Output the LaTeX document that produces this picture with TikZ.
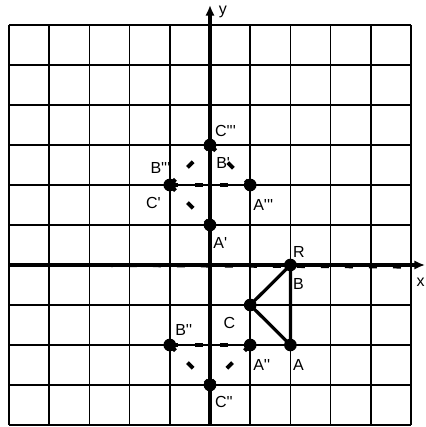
\documentclass[tikz,border=0pt]{standalone}
\usepackage{fontspec}
\newfontfamily\lab{Liberation Sans}
\usetikzlibrary{arrows.meta}
\begin{document}
\begin{tikzpicture}[x=30.15pt,y=30pt,
  gridline/.style={line width=1.3pt,black},
  axisline/.style={line width=2.4pt,black},
  tri/.style={line width=2.4pt,black},
  dsh/.style={line width=3pt,black,dash pattern=on 6pt off 12.75pt},
  dot/.style={circle,fill=black,inner sep=0pt,minimum size=9.5pt},
  lbl/.style={font=\lab\fontsize{12}{14}\selectfont,inner sep=0pt}]
\useasboundingbox (-5.2239,-4.05) rectangle (5.3483,6.625);
% grid
\foreach \i in {-5,...,5} \draw[gridline] (\i,-4) -- (\i,6);
\foreach \j in {-4,...,6} \draw[gridline] (-5,\j) -- (5,\j);
% axes
\coordinate (xs) at (-5,0);
\coordinate (xe) at (5.35,0);
\coordinate (ys) at (0,-4);
\coordinate (ye) at (0,6.5);
\draw[axisline,-{Latex[length=8pt,width=7pt]}] (xs) -- (xe);
\draw[line width=2.2pt,dash pattern=on 6pt off 12pt,yshift=-1.6pt] (xs) -- (5.1,0);
\draw[axisline,-{Latex[length=8pt,width=7pt]}] (ys) -- (ye);
\node[lbl] (ylab) at (0.32,6.33) {y};
\node[lbl,anchor=east] (xlab) at (5.345,-0.42) {x};
% points
\node[dot] (B) at (2,0) {};
\node[dot] (A) at (2,-2) {};
\node[dot] (C) at (1,-1) {};
\node[dot] (A2) at (1,-2) {};
\node[dot] (B2) at (-1,-2) {};
\node[dot] (C2) at (0,-3) {};
\node[dot] (C3) at (0,3) {};
\node[dot] (C1) at (-1,2) {};
\node[dot] (A3) at (1,2) {};
\node[dot] (A1) at (0,1) {};
% original triangle
\draw[tri] (B.center) -- (A.center) -- (C.center) -- cycle;
% images
\draw[dsh] (B2.center) -- (A2.center);
\draw[dsh] (B2.center) -- (C2.center);
\draw[dsh] (A2.center) -- (C2.center);
\draw[dsh] (C1.center) -- (A3.center);
\draw[dsh] (C1.center) -- (C3.center);
\draw[dsh] (C1.center) -- (A1.center);
\draw[dsh] (C3.center) -- (A3.center);
\draw[dsh] (A1.center) -- (C3.center);
% labels
\node[lbl,anchor=west] (lC3) at (0.12,3.35) {C'''};
\node[lbl,anchor=west] (lB1) at (0.15,2.55) {B'};
\node[lbl,anchor=east] (lB3) at (-0.98,2.43) {B'''};
\node[lbl,anchor=east] (lC1) at (-1.22,1.55) {C'};
\node[lbl,anchor=west] (lA3) at (1.07,1.5) {A'''};
\node[lbl,anchor=west] (lA1) at (0.08,0.55) {A'};
\node[lbl,anchor=west] (lR) at (2.06,0.33) {R};
\node[lbl,anchor=west] (lB) at (2.06,-0.48) {B};
\node[lbl] (lC) at (0.48,-1.45) {C};
\node[lbl,anchor=west] (lB2) at (-0.87,-1.62) {B''};
\node[lbl,anchor=west] (lA2) at (1.07,-2.5) {A''};
\node[lbl,anchor=west] (lA) at (2.06,-2.5) {A};
\node[lbl,anchor=west] (lC2) at (0.12,-3.42) {C''};
\end{tikzpicture}
\end{document}
